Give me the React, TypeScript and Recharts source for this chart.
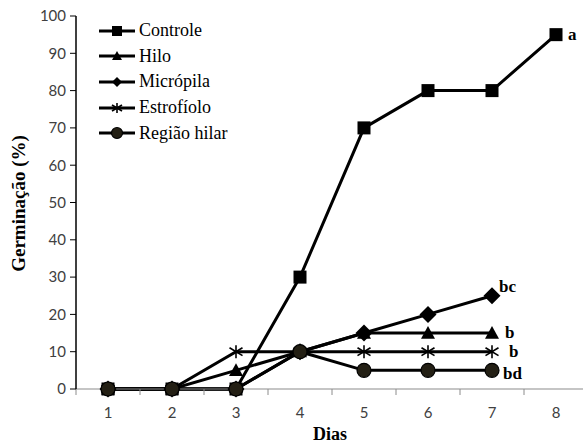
import React from "react";
import { LineChart, Line, XAxis, YAxis, Label } from "recharts";

const days = [1, 2, 3, 4, 5, 6, 7, 8];
const controle = [0, 0, 0, 30, 70, 80, 80, 95];
const hilo = [0, 0, 5, 10, 15, 15, 15];
const micropila = [0, 0, 0, 10, 15, 20, 25];
const estrofiolo = [0, 0, 10, 10, 10, 10, 10];
const regiaoHilar = [0, 0, 0, 10, 5, 5, 5];
const yTicks = [0, 10, 20, 30, 40, 50, 60, 70, 80, 90, 100];
const bandEdges = [0.5, 1.5, 2.5, 3.5, 4.5, 5.5, 6.5, 7.5, 8.5];

const data = days.map((d, i) => ({
  dia: d,
  controle: controle[i],
  hilo: hilo[i],
  micropila: micropila[i],
  estrofiolo: estrofiolo[i],
  regiaoHilar: regiaoHilar[i],
}));

const DARK = "#231f14";

type Shape = "square" | "triangle" | "diamond" | "asterisk" | "circle";

function Marker({ shape, cx, cy, s }: { shape: Shape; cx: number; cy: number; s: number }) {
  const h = s / 2;
  switch (shape) {
    case "square":
      return <rect x={cx - h} y={cy - h} width={s} height={s} fill="#000" />;
    case "triangle":
      return <polygon points={`${cx},${cy - h} ${cx + h},${cy + h * 0.8} ${cx - h},${cy + h * 0.8}`} fill="#000" />;
    case "diamond":
      return <polygon points={`${cx},${cy - h} ${cx + h},${cy} ${cx},${cy + h} ${cx - h},${cy}`} fill="#000" />;
    case "asterisk":
      return (
        <g stroke="#000" strokeWidth={1.6}>
          <line x1={cx} y1={cy - h} x2={cx} y2={cy + h} />
          <line x1={cx - h} y1={cy - h * 0.6} x2={cx + h} y2={cy + h * 0.6} />
          <line x1={cx - h} y1={cy + h * 0.6} x2={cx + h} y2={cy - h * 0.6} />
        </g>
      );
    default:
      return <circle cx={cx} cy={cy} r={h} fill={DARK} stroke="#000" strokeWidth={1.2} />;
  }
}

const SERIES: { key: string; name: string; shape: Shape; size: number; legendSize: number; letter: string; dx: number; dy: number }[] = [
  { key: "controle", name: "Controle", shape: "square", size: 13, legendSize: 10, letter: "a", dx: 12, dy: 5 },
  { key: "hilo", name: "Hilo", shape: "triangle", size: 14, legendSize: 10, letter: "b", dx: 13, dy: 5 },
  { key: "micropila", name: "Micrópila", shape: "diamond", size: 17, legendSize: 10, letter: "bc", dx: 7, dy: -4 },
  { key: "estrofiolo", name: "Estrofíolo", shape: "asterisk", size: 13, legendSize: 10, letter: "b", dx: 17, dy: 5 },
  { key: "regiaoHilar", name: "Região hilar", shape: "circle", size: 14, legendSize: 11, letter: "bd", dx: 11, dy: 9 },
];

function makeDot(shape: Shape, size: number, letter: string, dx: number, dy: number, lastIndex: number) {
  return (props: any) => {
    const { cx, cy, index, value } = props;
    if (value == null || cx == null || cy == null) return <g key={index} />;
    return (
      <g key={index}>
        <Marker shape={shape} cx={cx} cy={cy} s={size} />
        {index === lastIndex && (
          <text x={cx + dx} y={cy + dy} fontFamily="Liberation Serif" fontWeight="bold" fontSize={17} fill="#000">
            {letter}
          </text>
        )}
      </g>
    );
  };
}

const seriesValues: Record<string, number[]> = { controle, hilo, micropila, estrofiolo, regiaoHilar };

function LegendBox() {
  return (
    <div style={{ position: "absolute", left: 97, top: 18, display: "flex", flexDirection: "column" }}>
      {SERIES.map((s) => (
        <div key={s.key} style={{ display: "flex", alignItems: "center", height: 25.6 }}>
          <svg width={40} height={14}>
            <line x1={2} y1={7} x2={38} y2={7} stroke="#000" strokeWidth={3} />
            <Marker shape={s.shape} cx={20} cy={7} s={s.legendSize} />
          </svg>
          <span style={{ fontFamily: "Liberation Serif", fontSize: 18, color: "#000", marginLeft: 2 }}>{s.name}</span>
        </div>
      ))}
    </div>
  );
}

const EmptyTick = () => <g />;

export default function App() {
  return (
    <div style={{ position: "absolute", left: 0, top: 0, width: 583, height: 444, overflow: "hidden", background: "#fff" }}>
      <LineChart width={590} height={444} data={data} margin={{ top: 16, right: 2, bottom: 0, left: 0 }}>
        <XAxis
          xAxisId="a"
          dataKey="dia"
          type="number"
          domain={[0.5, 8.5]}
          ticks={bandEdges}
          interval={0}
          height={6}
          tick={EmptyTick}
          tickLine={{ stroke: "#8c8c8c" }}
          tickSize={6}
          axisLine={{ stroke: "#8c8c8c", strokeWidth: 1.2 }}
        />
        <XAxis
          xAxisId="b"
          dataKey="dia"
          type="number"
          domain={[0.5, 8.5]}
          ticks={days}
          interval={0}
          height={49}
          axisLine={false}
          tickLine={false}
          tick={{ fontFamily: "Lato", fontSize: 15, fill: "#404040" }}
          tickMargin={6}
        >
          <Label value="Dias" position="insideBottom" offset={4} dx={-2} style={{ fontFamily: "Liberation Serif", fontWeight: "bold", fontSize: 18, fill: "#000" }} />
        </XAxis>
        <YAxis
          width={76}
          domain={[0, 100]}
          ticks={yTicks}
          interval={0}
          axisLine={{ stroke: "#000", strokeWidth: 1.5 }}
          tickLine={{ stroke: "#000" }}
          tickSize={6}
          tick={{ fontFamily: "Lato", fontSize: 15, fill: "#404040" }}
          tickMargin={4}
        >
          <Label value="Germinação (%)" angle={-90} position="insideLeft" offset={18} dy={1} style={{ textAnchor: "middle", fontFamily: "Liberation Serif", fontWeight: "bold", fontSize: 19, fill: "#000" }} />
        </YAxis>
        {SERIES.map((s) => (
          <Line
            key={s.key}
            xAxisId="a"
            dataKey={s.key}
            name={s.name}
            stroke="#000"
            strokeWidth={3}
            isAnimationActive={false}
            dot={makeDot(s.shape, s.size, s.letter, s.dx, s.dy, seriesValues[s.key].length - 1)}
            activeDot={false}
            legendType="none"
          />
        ))}
      </LineChart>
      <LegendBox />
    </div>
  );
}
